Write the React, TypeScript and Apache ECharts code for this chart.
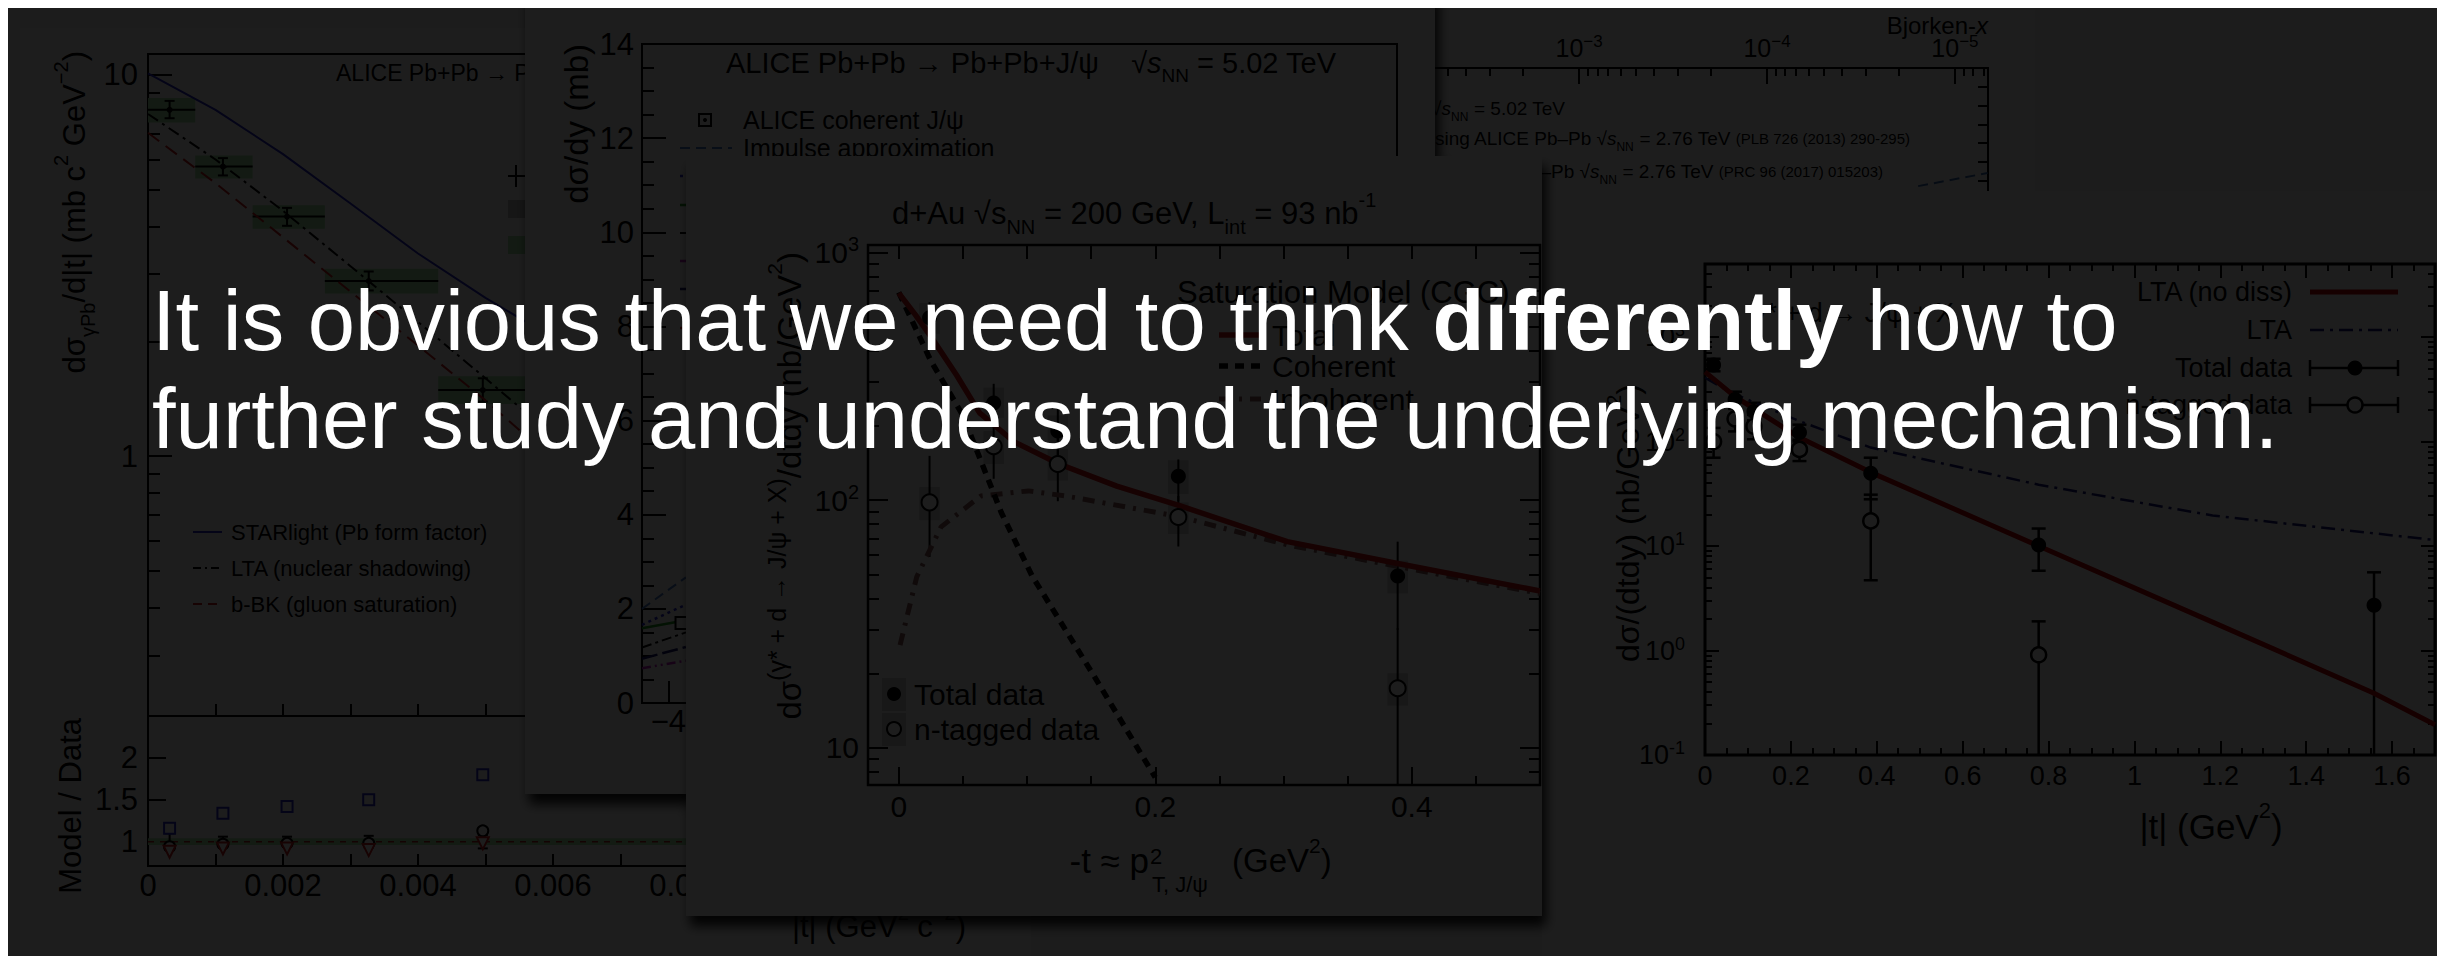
import React, { useEffect, useRef } from "react";
import * as echarts from "echarts";

const W = 2445;
const H = 956;
const FONT = "'Liberation Sans', Arial, Helvetica, sans-serif";
const INK = "#000000";

/* ---------- ALICE coherent J/psi in Pb+Pb: d sigma / d|t| ---------- */
const aliceT = [0.00032, 0.00111, 0.00206, 0.00327, 0.00496];
const aliceBinLow = [0.0, 0.0007, 0.00155, 0.00262, 0.0043];
const aliceBinHigh = [0.0007, 0.00155, 0.00262, 0.0043, 0.0065];
const aliceXsec = [8.1, 5.75, 4.25, 2.88, 1.49];
const aliceStatLow = [7.7, 5.45, 4.02, 2.72, 1.39];
const aliceStatHigh = [8.55, 6.05, 4.48, 3.05, 1.6];
const aliceSystLow = [7.5, 5.35, 3.95, 2.67, 1.37];
const aliceSystHigh = [8.7, 6.15, 4.55, 3.1, 1.62];

const aliceModelT = [0, 0.001, 0.002, 0.003, 0.004, 0.005, 0.0056];
const starlightPb = [10.1, 8.1, 6.2, 4.6, 3.4, 2.6, 2.25];
const ltaShadowing = [7.9, 6.0, 4.4, 3.15, 2.25, 1.6, 1.3];
const bbkSaturation = [7.05, 5.2, 3.75, 2.7, 1.95, 1.4, 1.13];

const ratioStarlight = [1.16, 1.34, 1.42, 1.5, 1.8];
const ratioLta = [0.94, 0.97, 0.98, 0.98, 1.13];
const ratioBbk = [0.88, 0.92, 0.92, 0.9, 0.98];
const ratioDataLow = [0.9, 0.94, 0.94, 0.93, 0.92];
const ratioDataHigh = [1.1, 1.06, 1.06, 1.07, 1.08];
const ratioUnityT = [0, 0.012];
const ratioUnity = [1, 1];
const ratioBandLow = 0.96;
const ratioBandHigh = 1.04;

/* ---------- ALICE Pb+Pb -> Pb+Pb+J/psi: d sigma / dy ---------- */
const rapidityEdge = [-4.3, -3.8];
const impulseApprox = [2.0, 2.67];
const modelDotted = [1.66, 2.09];
const modelGreen = [1.59, 1.76];
const modelDashDot = [1.18, 1.5];
const modelNavy = [0.94, 1.19];
const modelMagenta = [0.74, 0.9];
const aliceRapidity = [-3.85];
const aliceDsdy = [1.7];
const aliceDsdyLow = [1.58];
const aliceDsdyHigh = [1.82];

/* ---------- Bjorken-x strip ---------- */
const bjorkenCurveX = [1.57e-5, 6.7e-6];
const bjorkenCurveY = [9.7, 10.4];

/* ---------- d+Au, 200 GeV: measured spectrum and CGC model ---------- */
const dAuT = [0.024, 0.074, 0.124, 0.218, 0.389];
const dAuTotal = [545, 247, 190, 125, 49.4];
const dAuTotalLow = [460, 200, 150, 99, 30];
const dAuTotalHigh = [630, 295, 238, 146, 68];
const dAuTotalSysLow = [470, 215, 165, 106, 42];
const dAuTotalSysHigh = [625, 285, 220, 145, 57];
const dAuTagged = [98, 165, 140, 85.5, 17.4];
const dAuTaggedLow = [59, 122, 99, 65, 3];
const dAuTaggedHigh = [151, 205, 180, 104, 30.4];
const dAuTaggedSysLow = [83, 140, 120, 73, 14.8];
const dAuTaggedSysHigh = [113, 190, 161, 98, 20];

const cgcTotalT = [0, 0.013, 0.026, 0.045, 0.063, 0.09, 0.125, 0.17, 0.219, 0.303, 0.389, 0.5];
const cgcTotal = [685, 560, 450, 320, 225, 172, 140, 114, 95, 68, 55.5, 43];
const cgcCoherentT = [0, 0.025, 0.05, 0.08, 0.104, 0.152, 0.2];
const cgcCoherent = [690, 365, 220, 89, 49.4, 19.6, 7.6];
const cgcIncoherentT = [0.001, 0.014, 0.033, 0.064, 0.101, 0.13, 0.218, 0.303, 0.389, 0.5];
const cgcIncoherent = [26, 49, 78, 104, 109, 104, 86, 66, 54, 42];

/* ---------- LTA comparison, |t| up to 1.7 GeV^2 ---------- */
const ltaDataT = [0.02, 0.07, 0.114, 0.22, 0.386, 0.777, 1.558];
const ltaDataTotal = [541, 253, 194, 122, 49.8, 10.2, 2.71];
const ltaDataTotalLow = [470, 210, 160, 100, 28, 5.8, 0.05];
const ltaDataTotalHigh = [620, 300, 235, 145, 70, 14.7, 5.6];
const ltaTaggedT = [0.02, 0.07, 0.114, 0.22, 0.386, 0.777];
const ltaTagged = [100, 165, 140, 84, 17.4, 0.91];
const ltaTaggedLow = [70, 125, 105, 65, 4.7, 0.05];
const ltaTaggedHigh = [135, 205, 180, 104, 31, 1.9];
const ltaNoDissT = [0, 0.07, 0.22, 0.386, 0.777, 1.182, 1.558, 1.7];
const ltaNoDiss = [464, 269, 109, 50.7, 10, 1.87, 0.39, 0.195];
const ltaFullT = [0, 0.05, 0.106, 0.22, 0.386, 0.777, 1.182, 1.7];
const ltaFull = [408, 310, 245, 157, 87.5, 38.6, 19.6, 11.4];

/* ---------- helpers ---------- */
const zip = (xs: number[], ys: number[]) => xs.map((x, i) => [x, ys[i]]);
const steps = (a: number, b: number, s: number) => {
  const out: number[] = [];
  const n = Math.round((b - a) / s);
  for (let i = 0; i <= n; i++) out.push(+(a + i * s).toFixed(6));
  return out;
};
const logMinors = (lo: number, hi: number) => {
  const out: number[] = [];
  for (let d = Math.floor(Math.log10(lo)); d <= Math.ceil(Math.log10(hi)); d++) {
    for (let k = 2; k <= 9; k++) {
      const v = +(k * Math.pow(10, d)).toPrecision(6);
      if (v >= lo && v <= hi) out.push(v);
    }
  }
  return out;
};
const fmtDec = (v: number) => (v === 0 ? "0" : String(parseFloat(v.toFixed(4))));
const fmtSigned = (v: number) => (v < 0 ? "\u2212" + String(-v) : String(v));
const fmtPow = (v: number) => {
  const e = Math.round(Math.log10(v));
  if (e === 0) return "1";
  if (e === 1) return "10";
  return `10{sup|${e < 0 ? "\u2212" + -e : e}}`;
};
const fmtPowMinus = (v: number) => {
  const e = Math.round(Math.log10(v));
  return `10{sup|${e < 0 ? "\u2212" + -e : e}}`;
};
const fmtPowAll = (v: number) => {
  const e = Math.round(Math.log10(v));
  return `10{sup|${e}}`;
};

const textRich = (size: number, fill: string) => ({
  sup: { fontSize: Math.round(size * 0.64), fontFamily: FONT, fill, verticalAlign: "top", lineHeight: Math.round(size * 1.0) },
  sub: { fontSize: Math.round(size * 0.64), fontFamily: FONT, fill, verticalAlign: "bottom", lineHeight: Math.round(size * 1.0) },
  hi: { fontSize: Math.round(size * 0.76), fontFamily: FONT, fill, verticalAlign: "top", lineHeight: Math.round(size * 1.1) },
  it: { fontSize: size, fontFamily: FONT, fontStyle: "italic", fill, lineHeight: Math.round(size * 1.5) },
  sm: { fontSize: Math.round(size * 0.8), fontFamily: FONT, fill, lineHeight: Math.round(size * 1.5) },
  b: { fontSize: size, fontFamily: FONT, fontWeight: "bold", fill, lineHeight: Math.round(size * 1.5) },
});
const axisRich = (size: number) => ({
  sup: { fontSize: Math.round(size * 0.66), fontFamily: FONT, color: INK, verticalAlign: "top", lineHeight: Math.round(size * 0.95) },
});

function buildOption() {
  const grid: any[] = [];
  const xAxis: any[] = [];
  const yAxis: any[] = [];
  const series: any[] = [];
  const g: any[] = [];

  const addGrid = (left: number, top: number, width: number, height: number, z: number, bw = 2) => {
    grid.push({ left, top, width, height, z, show: true, borderColor: INK, borderWidth: bw, backgroundColor: "rgba(0,0,0,0)" });
    return grid.length - 1;
  };
  const axisBase = (gi: number, z: number, type: string, position: string, min: number, max: number, extra: any) => ({
    type,
    gridIndex: gi,
    z,
    position,
    min,
    max,
    ...(type === "log" ? { logBase: 10 } : {}),
    axisLine: { show: false, onZero: false },
    splitLine: { show: false },
    splitArea: { show: false },
    axisPointer: { show: false },
    ...extra,
  });
  const tickOnly = (values: number[], length: number, width = 2) => ({
    axisLabel: { show: false },
    axisTick: { show: true, inside: true, length, customValues: values, lineStyle: { color: INK, width } },
  });
  const labelled = (values: number[], fmt: any, size: number, margin: number, ticksAt: number[], tickLen: number, tickW = 2) => ({
    axisLabel: {
      show: true,
      customValues: values,
      formatter: fmt,
      color: INK,
      fontFamily: FONT,
      fontSize: size,
      margin,
      showMinLabel: true,
      showMaxLabel: true,
      hideOverlap: false,
      lineHeight: Math.round(size * 1.2),
      rich: axisRich(size),
    },
    axisTick: { show: true, inside: true, length: tickLen, customValues: ticksAt, lineStyle: { color: INK, width: tickW } },
  });
  const addX = (o: any) => {
    xAxis.push(o);
    return xAxis.length - 1;
  };
  const addY = (o: any) => {
    yAxis.push(o);
    return yAxis.length - 1;
  };

  const curve = (xi: number, yi: number, xs: number[], ys: number[], z: number, color: string, width: number, dash: any = "solid") =>
    series.push({
      type: "line",
      xAxisIndex: xi,
      yAxisIndex: yi,
      z,
      silent: true,
      symbol: "none",
      showSymbol: false,
      smooth: false,
      clip: true,
      data: zip(xs, ys),
      lineStyle: { color, width, type: dash, cap: "butt", join: "round" },
      emphasis: { disabled: true },
    });
  const segs = (xi: number, yi: number, data: number[][], z: number, color: string, width: number, cap = 0) =>
    series.push({
      type: "custom",
      xAxisIndex: xi,
      yAxisIndex: yi,
      z,
      silent: true,
      clip: true,
      data,
      renderItem: (_p: any, api: any) => {
        const a = api.coord([api.value(0), api.value(1)]);
        const b = api.coord([api.value(2), api.value(3)]);
        const style = { stroke: color, lineWidth: width };
        const children: any[] = [{ type: "line", shape: { x1: a[0], y1: a[1], x2: b[0], y2: b[1] }, style }];
        if (cap) {
          children.push({ type: "line", shape: { x1: a[0] - cap, y1: a[1], x2: a[0] + cap, y2: a[1] }, style });
          children.push({ type: "line", shape: { x1: b[0] - cap, y1: b[1], x2: b[0] + cap, y2: b[1] }, style });
        }
        return { type: "group", children };
      },
    });
  const boxes = (xi: number, yi: number, data: number[][], z: number, fill: string) =>
    series.push({
      type: "custom",
      xAxisIndex: xi,
      yAxisIndex: yi,
      z,
      silent: true,
      clip: true,
      data,
      renderItem: (_p: any, api: any) => {
        const a = api.coord([api.value(0), api.value(2)]);
        const b = api.coord([api.value(1), api.value(3)]);
        return {
          type: "rect",
          shape: { x: Math.min(a[0], b[0]), y: Math.min(a[1], b[1]), width: Math.abs(b[0] - a[0]), height: Math.abs(b[1] - a[1]) },
          style: { fill },
        };
      },
    });
  const marks = (xi: number, yi: number, xs: number[], ys: number[], z: number, symbol: string, size: number, fill: string, stroke: string, bw: number, rotate = 0) =>
    series.push({
      type: "scatter",
      xAxisIndex: xi,
      yAxisIndex: yi,
      z,
      silent: true,
      clip: true,
      symbol,
      symbolSize: size,
      symbolRotate: rotate,
      data: zip(xs, ys),
      itemStyle: { color: fill, borderColor: stroke, borderWidth: bw, opacity: 1 },
      emphasis: { disabled: true },
    });

  const text = (x: number, y: number, s: string, size: number, z: number, o: any = {}) =>
    g.push({
      type: "text",
      x,
      y,
      z,
      rotation: o.rot || 0,
      silent: true,
      style: {
        text: s,
        fill: o.fill || INK,
        fontFamily: FONT,
        fontSize: size,
        fontWeight: o.weight || "normal",
        fontStyle: o.italic ? "italic" : "normal",
        align: o.align || "left",
        verticalAlign: o.va || "middle",
        lineHeight: Math.round(size * 1.5),
        rich: textRich(size, o.fill || INK),
      },
    });
  const line = (x1: number, y1: number, x2: number, y2: number, z: number, stroke = INK, lineWidth = 2, lineDash: any = null) =>
    g.push({ type: "line", z, silent: true, shape: { x1, y1, x2, y2 }, style: { stroke, lineWidth, lineDash } });
  const rect = (x: number, y: number, w: number, h: number, z: number, fill: string, extra: any = {}) =>
    g.push({ type: "rect", z, silent: true, shape: { x, y, width: w, height: h }, style: { fill, ...extra } });
  const circle = (cx: number, cy: number, r: number, z: number, fill: string, stroke: any = null, lw = 2) =>
    g.push({ type: "circle", z, silent: true, shape: { cx, cy, r }, style: { fill, stroke, lineWidth: lw } });

  const shadow = { shadowBlur: 12, shadowOffsetX: 4, shadowOffsetY: 10, shadowColor: "rgba(0,0,0,0.9)" };

  /* ======== Panel A: ALICE d sigma/d|t| with Model/Data pad (z 1-4) ======== */
  rect(12, 20, 1011, 934, 1, "#ffffff");
  const gU = addGrid(140, 46, 810, 662, 2);
  const gL = addGrid(140, 708, 810, 150, 2);
  const xU = addX(axisBase(gU, 2, "value", "bottom", 0, 0.012, tickOnly(steps(0, 0.012, 0.001), 12)));
  const yU = addY(axisBase(gU, 2, "log", "left", 0.208, 11.35, labelled([1, 10], fmtPow, 31, 10, [1, 10], 24)));
  addY(axisBase(gU, 2, "log", "left", 0.208, 11.35, tickOnly(logMinors(0.208, 11.35), 12)));
  const xL = addX(axisBase(gL, 2, "value", "bottom", 0, 0.012, labelled(steps(0, 0.012, 0.002), fmtDec, 31, 1, steps(0, 0.012, 0.001), 12)));
  const yL = addY(axisBase(gL, 2, "value", "left", 0.71, 2.5, labelled([1, 1.5, 2], fmtDec, 31, 10, [1, 1.5, 2], 18)));

  boxes(xU, yU, aliceBinLow.map((x0, i) => [x0, aliceBinHigh[i], aliceSystLow[i], aliceSystHigh[i]]), 3, "#a4e6a4");
  curve(xU, yU, aliceModelT, starlightPb, 3, "#2424c8", 2);
  curve(xU, yU, aliceModelT, ltaShadowing, 3, "#000000", 2, [12, 5, 3, 5]);
  curve(xU, yU, aliceModelT, bbkSaturation, 3, "#cc1a1a", 2, [14, 8]);
  segs(xU, yU, aliceT.map((_t, i) => [aliceBinLow[i], aliceXsec[i], aliceBinHigh[i], aliceXsec[i]]), 3, INK, 2);
  segs(xU, yU, aliceT.map((t, i) => [t, aliceStatLow[i], t, aliceStatHigh[i]]), 3, INK, 2, 5);
  marks(xU, yU, aliceT, aliceXsec, 3, "circle", 6, INK, INK, 0);

  boxes(xL, yL, [[ratioUnityT[0], ratioUnityT[1], ratioBandLow, ratioBandHigh]], 3, "#a8e8a8");
  curve(xL, yL, ratioUnityT, ratioUnity, 3, "#b02020", 1.5, [6, 6]);
  segs(xL, yL, aliceT.map((t, i) => [t, ratioDataLow[i], t, ratioDataHigh[i]]), 3, INK, 2, 5);
  marks(xL, yL, aliceT, ratioStarlight, 3, "rect", 11, "#ffffff", "#2424c8", 2);
  marks(xL, yL, aliceT, ratioLta, 3, "circle", 11, "#ffffff", INK, 2);
  marks(xL, yL, aliceT, ratioBbk, 3, "triangle", 12, "#ffffff", "#cc1a1a", 2, 180);

  text(328, 65, "ALICE Pb+Pb \u2192 Pb+Pb+J/\u03c8", 23, 4);
  text(66, 43, "d\u03c3{sub|\u03b3Pb}/d|t| (mb c{sup|2} GeV{sup|\u22122})", 31, 4, { rot: Math.PI / 2, align: "right" });
  text(62, 710, "Model / Data", 31, 4, { rot: Math.PI / 2, align: "right" });
  text(958, 918, "|t| (GeV{sup|2} c{sup|\u22122})", 31, 4, { align: "right" });
  line(185, 524, 214, 524, 4, "#2424c8", 2);
  line(185, 560, 214, 560, 4, INK, 2, [8, 4, 2, 4]);
  line(185, 596, 214, 596, 4, "#cc1a1a", 2, [9, 6]);
  text(223, 524, "STARlight (Pb form factor)", 22, 4);
  text(223, 560, "LTA (nuclear shadowing)", 22, 4);
  text(223, 596, "b-BK (gluon saturation)", 22, 4);
  line(508, 157, 508, 179, 4, INK, 2);
  line(500, 168, 520, 168, 4, INK, 2);
  rect(500, 192, 20, 18, 4, "#bdbdbd");
  rect(500, 228, 20, 18, 4, "#a4e6a4");

  /* ======== Panel B: Bjorken-x strip (z 10-13) ======== */
  rect(1427, -20, 600, 420, 10, "#ffffff");
  const gB = addGrid(1300, 60, 680, 300, 11);
  const xB = addX(
    axisBase(gB, 11, "log", "top", 6.67e-6, 0.0277, {
      inverse: true,
      ...labelled([1e-5, 1e-4, 1e-3], fmtPowMinus, 25, 5, [1e-5, 1e-4, 1e-3, 1e-2], 16),
    })
  );
  addX(axisBase(gB, 11, "log", "top", 6.67e-6, 0.0277, { inverse: true, ...tickOnly(logMinors(6.67e-6, 0.0277), 8) }));
  const yB = addY(axisBase(gB, 11, "value", "right", 0, 16, tickOnly(steps(0, 16, 1), 10)));
  curve(xB, yB, bjorkenCurveX, bjorkenCurveY, 12, "#3a6ab0", 2, [10, 6]);
  text(1980, 17, "Bjorken-{it|x}", 24, 13, { align: "right" });
  text(1557, 100, "ALICE Pb\u2013Pb \u221a{it|s}{sub|NN} = 5.02 TeV", 19, 13, { align: "right" });
  text(1902, 130, "Impulse approximation using ALICE Pb\u2013Pb \u221a{it|s}{sub|NN} = 2.76 TeV {sm|(PLB 726 (2013) 290-295)}", 19, 13, { align: "right" });
  text(1875, 163, "LTA using ALICE Pb\u2013Pb \u221a{it|s}{sub|NN} = 2.76 TeV {sm|(PRC 96 (2017) 015203)}", 19, 13, { align: "right" });

  /* ======== Panel C: ALICE d sigma/dy (z 20-23) ======== */
  rect(517, -20, 910, 806, 20, "#ffffff", shadow);
  const g2 = addGrid(634, 36, 755, 659, 21);
  const x2 = addX(axisBase(g2, 21, "value", "bottom", -4.3, 4.3, labelled([-4, -2, 0, 2, 4], fmtSigned, 31, 0, steps(-4, 4, 1), 22)));
  const y2 = addY(axisBase(g2, 21, "value", "left", 0, 14, labelled(steps(0, 14, 2), fmtDec, 31, 8, steps(0, 14, 2), 24)));
  addY(axisBase(g2, 21, "value", "left", 0, 14, tickOnly(steps(0, 14, 0.5), 12)));
  curve(x2, y2, rapidityEdge, impulseApprox, 22, "#4a78c8", 2, [10, 6]);
  curve(x2, y2, rapidityEdge, modelDotted, 22, "#2a2ad0", 2.5, [3, 4]);
  curve(x2, y2, rapidityEdge, modelGreen, 22, "#1f9a1f", 2.5, "solid");
  curve(x2, y2, rapidityEdge, modelDashDot, 22, "#000000", 2, [10, 4, 3, 4]);
  curve(x2, y2, rapidityEdge, modelNavy, 22, "#14146e", 2.5, [16, 5]);
  curve(x2, y2, rapidityEdge, modelMagenta, 22, "#c020c0", 2.5, [9, 4, 2, 4, 2, 4]);
  segs(x2, y2, aliceRapidity.map((r, i) => [r, aliceDsdyLow[i], r, aliceDsdyHigh[i]]), 22, INK, 2, 4);
  marks(x2, y2, aliceRapidity, aliceDsdy, 22, "rect", 12, "#ffffff", INK, 2);
  text(718, 55, "ALICE Pb+Pb \u2192 Pb+Pb+J/\u03c8    \u221a{it|s}{sub|NN} = 5.02 TeV", 29, 23);
  text(568, 36, "d\u03c3/dy (mb)", 33, 23, { rot: Math.PI / 2, align: "right" });
  rect(691, 106, 12, 12, 23, "#ffffff", { stroke: INK, lineWidth: 2 });
  circle(697, 112, 2, 23, INK);
  text(735, 112, "ALICE coherent J/\u03c8", 25, 23);
  line(672, 140, 724, 140, 23, "#4a78c8", 2, [10, 6]);
  text(735, 140, "Impulse approximation", 25, 23);
  line(672, 168, 724, 168, 23, "#2a2ad0", 2.5, [3, 4]);
  line(672, 197, 724, 197, 23, "#1f9a1f", 2.5);
  line(672, 225, 724, 225, 23, INK, 2, [10, 4, 3, 4]);
  line(672, 253, 724, 253, 23, "#c020c0", 2.5, [9, 4, 2, 4]);
  line(672, 281, 724, 281, 23, "#14146e", 2.5, [16, 5]);
  line(672, 320, 724, 320, 23, "#cc1a1a", 2.5, [8, 5]);

  /* ======== Panel D: LTA vs data, |t| to 1.7 (z 30-33) ======== */
  rect(1534, 183, 930, 800, 30, "#ffffff");
  const g4 = addGrid(1697, 256, 730, 491, 31, 3);
  const x4 = addX(axisBase(g4, 31, "value", "bottom", 0, 1.7, labelled(steps(0, 1.6, 0.2), fmtDec, 27, 5, steps(0, 1.6, 0.2), 14)));
  addX(axisBase(g4, 31, "value", "bottom", 0, 1.7, tickOnly(steps(0, 1.7, 0.05), 7)));
  addX(axisBase(g4, 31, "value", "top", 0, 1.7, tickOnly(steps(0, 1.6, 0.2), 14)));
  addX(axisBase(g4, 31, "value", "top", 0, 1.7, tickOnly(steps(0, 1.7, 0.05), 7)));
  const y4 = addY(axisBase(g4, 31, "log", "left", 0.1, 5000, labelled([0.1, 1, 10, 100, 1000], fmtPowAll, 27, 20, [0.1, 1, 10, 100, 1000], 14)));
  addY(axisBase(g4, 31, "log", "left", 0.1, 5000, tickOnly(logMinors(0.1, 5000), 7)));
  addY(axisBase(g4, 31, "log", "right", 0.1, 5000, tickOnly([0.1, 1, 10, 100, 1000], 14)));
  addY(axisBase(g4, 31, "log", "right", 0.1, 5000, tickOnly(logMinors(0.1, 5000), 7)));
  curve(x4, y4, ltaFullT, ltaFull, 32, "#16167a", 2.5, [14, 6, 3, 6]);
  curve(x4, y4, ltaNoDissT, ltaNoDiss, 32, "#c40000", 5);
  segs(x4, y4, ltaDataT.map((t, i) => [t, ltaDataTotalLow[i], t, ltaDataTotalHigh[i]]), 32, INK, 2.5, 7);
  segs(x4, y4, ltaTaggedT.map((t, i) => [t, ltaTaggedLow[i], t, ltaTaggedHigh[i]]), 32, INK, 2.5, 7);
  marks(x4, y4, ltaDataT, ltaDataTotal, 32, "circle", 15, INK, INK, 0);
  marks(x4, y4, ltaTaggedT, ltaTagged, 32, "circle", 15, "#ffffff", INK, 2.5);
  text(1745, 305, "\u03b3* + d \u2192 J/\u03c8 + X", 27, 33);
  text(2284, 284, "LTA (no diss)", 27, 33, { align: "right" });
  text(2284, 322, "LTA", 27, 33, { align: "right" });
  text(2284, 360, "Total data", 27, 33, { align: "right" });
  text(2284, 397, "n-tagged data", 27, 33, { align: "right" });
  line(2302, 284, 2390, 284, 33, "#c40000", 5);
  line(2302, 322, 2390, 322, 33, "#16167a", 2.5, [14, 6, 3, 6]);
  line(2302, 360, 2390, 360, 33, INK, 2.5);
  line(2302, 352, 2302, 368, 33, INK, 2.5);
  line(2390, 352, 2390, 368, 33, INK, 2.5);
  circle(2347, 360, 7.5, 33, INK);
  line(2302, 397, 2390, 397, 33, INK, 2.5);
  line(2302, 389, 2302, 405, 33, INK, 2.5);
  line(2390, 389, 2390, 405, 33, INK, 2.5);
  circle(2347, 397, 7.5, 33, "#ffffff", INK, 2.5);
  text(2203, 818, "|t| (GeV{sup|2})", 35, 33, { align: "center" });
  text(1620, 515, "d\u03c3/(dtdy) (nb/GeV{sup|2})", 32, 33, { rot: Math.PI / 2, align: "center" });

  /* ======== Panel E: d+Au with saturation model (z 40-43) ======== */
  rect(678, 148, 856, 760, 40, "#ffffff", shadow);
  const g3 = addGrid(860, 237, 672, 540, 41, 2.5);
  const x3 = addX(axisBase(g3, 41, "value", "bottom", -0.024, 0.5, labelled([0, 0.2, 0.4], fmtDec, 30, 3, [0, 0.2, 0.4], 18)));
  addX(axisBase(g3, 41, "value", "bottom", -0.024, 0.5, tickOnly(steps(0, 0.5, 0.05), 9)));
  addX(axisBase(g3, 41, "value", "top", -0.024, 0.5, tickOnly(steps(0, 0.5, 0.05), 14)));
  const y3 = addY(axisBase(g3, 41, "log", "left", 7.08, 1072, labelled([10, 100, 1000], fmtPow, 30, 9, [10, 100, 1000], 20)));
  addY(axisBase(g3, 41, "log", "left", 7.08, 1072, tickOnly(logMinors(7.08, 1072), 11)));
  addY(axisBase(g3, 41, "log", "right", 7.08, 1072, tickOnly([10, 100, 1000], 20)));
  addY(axisBase(g3, 41, "log", "right", 7.08, 1072, tickOnly(logMinors(7.08, 1072), 11)));
  boxes(x3, y3, dAuT.map((t, i) => [t - 0.008, t + 0.008, dAuTotalSysLow[i], dAuTotalSysHigh[i]]), 42, "#cfcfcf");
  boxes(x3, y3, dAuT.map((t, i) => [t - 0.008, t + 0.008, dAuTaggedSysLow[i], dAuTaggedSysHigh[i]]), 42, "#cfcfcf");
  curve(x3, y3, cgcIncoherentT, cgcIncoherent, 42, "#8a5c5c", 5, [12, 8, 3, 8]);
  curve(x3, y3, cgcCoherentT, cgcCoherent, 42, "#000000", 5.5, [9, 7]);
  curve(x3, y3, cgcTotalT, cgcTotal, 42, "#c81414", 5.5);
  segs(x3, y3, dAuT.map((t, i) => [t, dAuTotalLow[i], t, dAuTotalHigh[i]]), 42, INK, 2, 0);
  segs(x3, y3, dAuT.map((t, i) => [t, dAuTaggedLow[i], t, dAuTaggedHigh[i]]), 42, INK, 2, 0);
  marks(x3, y3, dAuT, dAuTotal, 42, "circle", 15, INK, INK, 0);
  marks(x3, y3, dAuT, dAuTagged, 42, "circle", 16, "#ffffff", INK, 2);
  text(884, 205, "d+Au \u221as{sub|NN} = 200 GeV, L{sub|int} = 93 nb{sup|-1}", 31, 43);
  text(781, 244, "d\u03c3{hi|(\u03b3* + d \u2192 J/\u03c8 + X)}/dtdy (nb/GeV{sup|2})", 33, 43, { rot: Math.PI / 2, align: "right" });
  text(1141, 852, "-t \u2248 p", 35, 43, { align: "right" });
  text(1142, 848, "2", 22, 43);
  text(1144, 876, "T, J/\u03c8", 22, 43);
  text(1224, 852, "(GeV{sup|2})", 33, 43);
  text(1169, 284, "Saturation Model (CGC)", 31, 43);
  line(1211, 327, 1253, 327, 43, "#c81414", 5.5);
  line(1211, 358, 1253, 358, 43, INK, 5.5, [9, 7]);
  line(1211, 391, 1253, 391, 43, "#8a5c5c", 5, [12, 8, 3, 8]);
  text(1264, 327, "Total", 30, 43);
  text(1264, 358, "Coherent", 30, 43);
  text(1264, 391, "Incoherent", 30, 43);
  rect(874, 670, 24, 33, 43, "#d4d4d4");
  rect(874, 705, 24, 33, 43, "#d4d4d4");
  circle(886, 686, 7, 43, INK);
  circle(886, 721, 7, 43, "#ffffff", INK, 2);
  text(906, 686, "Total data", 30, 43);
  text(906, 721, "n-tagged data", 30, 43);

  /* ======== dimming veil and headline ======== */
  rect(0, 0, W, H, 90, "rgba(0,0,0,0.885)");
  g.push({
    type: "text",
    x: 144,
    y: 312,
    z: 100,
    silent: true,
    style: {
      text: "It is obvious that we need to think {b|differently} how to",
      fill: "#ffffff",
      fontFamily: FONT,
      fontSize: 85,
      align: "left",
      verticalAlign: "middle",
      lineHeight: 100,
      rich: { b: { fontFamily: FONT, fontSize: 85, fontWeight: "bold", fill: "#ffffff", lineHeight: 100 } },
    },
  });
  g.push({
    type: "text",
    x: 144,
    y: 410,
    z: 100,
    silent: true,
    style: {
      text: "further study and understand the underlying mechanism.",
      fill: "#ffffff",
      fontFamily: FONT,
      fontSize: 85,
      align: "left",
      verticalAlign: "middle",
    },
  });

  return {
    animation: false,
    backgroundColor: "#f3f3f3",
    tooltip: { show: false },
    grid,
    xAxis,
    yAxis,
    series,
    graphic: { elements: g },
  };
}

export default function App() {
  const ref = useRef<HTMLDivElement>(null);
  useEffect(() => {
    if (!ref.current) return;
    const chart = echarts.init(ref.current, null, { renderer: "svg" });
    chart.setOption(buildOption() as any);
    return () => chart.dispose();
  }, []);
  return <div ref={ref} style={{ position: "fixed", left: 0, top: 0, width: W, height: H }} />;
}
